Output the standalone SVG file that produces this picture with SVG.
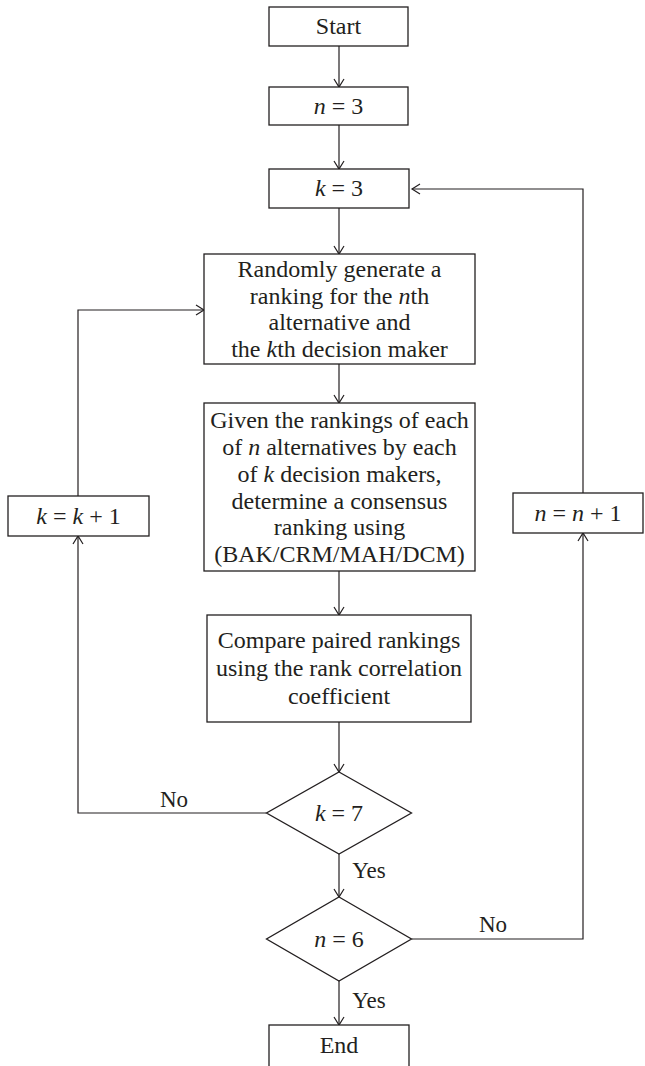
<svg xmlns="http://www.w3.org/2000/svg" width="645" height="1066" viewBox="0 0 645 1066">
<style>
.box{fill:#fff;stroke:#231f20;stroke-width:1.3}
.ln{fill:none;stroke:#231f20;stroke-width:1.2}
text{font-family:"Liberation Serif","Times New Roman",serif;font-size:24px;fill:#231f20;text-anchor:middle}
.lbl{font-size:23px}
.i{font-style:italic}
</style>
<defs>
<marker id="arr" markerUnits="userSpaceOnUse" markerWidth="14" markerHeight="14" refX="9" refY="6" orient="auto">
<path d="M1,1 L9,6 L1,11" fill="none" stroke="#231f20" stroke-width="1.2"/>
</marker>
</defs>
<rect width="645" height="1066" fill="#fff"/>
<g id="connectors">
<line class="ln" x1="339" y1="46" x2="339" y2="87" marker-end="url(#arr)"/>
<line class="ln" x1="339" y1="125" x2="339" y2="169" marker-end="url(#arr)"/>
<line class="ln" x1="339" y1="208" x2="339" y2="254" marker-end="url(#arr)"/>
<line class="ln" x1="339" y1="364" x2="339" y2="403" marker-end="url(#arr)"/>
<line class="ln" x1="339" y1="571" x2="339" y2="615" marker-end="url(#arr)"/>
<line class="ln" x1="339" y1="722" x2="339" y2="772" marker-end="url(#arr)"/>
<line class="ln" x1="339" y1="854" x2="339" y2="897" marker-end="url(#arr)"/>
<line class="ln" x1="339" y1="981" x2="339" y2="1025" marker-end="url(#arr)"/>
<polyline class="ln" points="266.5,813 78,813 78,536" marker-end="url(#arr)"/>
<polyline class="ln" points="78,496 78,310 204,310" marker-end="url(#arr)"/>
<polyline class="ln" points="411.5,939 583,939 583,533" marker-end="url(#arr)"/>
<polyline class="ln" points="583,493 583,189 412,189" marker-end="url(#arr)"/>
<text class="lbl" x="174" y="807">No</text>
<text class="lbl" x="369" y="878">Yes</text>
<text class="lbl" x="493" y="932">No</text>
<text class="lbl" x="369" y="1008">Yes</text>
</g>
<g id="start">
<rect class="box" x="269" y="7" width="139" height="39"/>
<text x="338.5" y="34">Start</text>
</g>
<g id="n3">
<rect class="box" x="269" y="87" width="139" height="38"/>
<text x="338.5" y="114"><tspan class="i">n</tspan> = 3</text>
</g>
<g id="k3">
<rect class="box" x="269" y="169" width="140" height="39"/>
<text x="339" y="196"><tspan class="i">k</tspan> = 3</text>
</g>
<g id="generate">
<rect class="box" x="204" y="254" width="271" height="110"/>
<text x="339.5" y="277">Randomly generate a</text>
<text x="339.5" y="303.5">ranking for the <tspan class="i">n</tspan>th</text>
<text x="339.5" y="330">alternative and</text>
<text x="339.5" y="356.5">the <tspan class="i">k</tspan>th decision maker</text>
</g>
<g id="consensus">
<rect class="box" x="204" y="403" width="271" height="168"/>
<text x="339.5" y="428">Given the rankings of each</text>
<text x="339.5" y="455">of <tspan class="i">n</tspan> alternatives by each</text>
<text x="339.5" y="482">of <tspan class="i">k</tspan> decision makers,</text>
<text x="339.5" y="508.5">determine a consensus</text>
<text x="339.5" y="535">ranking using</text>
<text x="339.5" y="562">(BAK/CRM/MAH/DCM)</text>
</g>
<g id="compare">
<rect class="box" x="207" y="615" width="264" height="107"/>
<text x="339" y="648">Compare paired rankings</text>
<text x="339" y="676">using the rank correlation</text>
<text x="339" y="704">coefficient</text>
</g>
<g id="k7">
<polygon class="box" points="339,772 411.5,813 339,854 266.5,813"/>
<text x="339" y="821"><tspan class="i">k</tspan> = 7</text>
</g>
<g id="n6">
<polygon class="box" points="339,897 411.5,939 339,981 266.5,939"/>
<text x="339" y="947"><tspan class="i">n</tspan> = 6</text>
</g>
<g id="end">
<rect class="box" x="269" y="1025" width="140" height="60"/>
<text x="339" y="1053">End</text>
</g>
<g id="kinc">
<rect class="box" x="8" y="496" width="141" height="40"/>
<text x="78.5" y="524"><tspan class="i">k</tspan> = <tspan class="i">k</tspan> + 1</text>
</g>
<g id="ninc">
<rect class="box" x="513" y="493" width="130" height="40"/>
<text x="578" y="521"><tspan class="i">n</tspan> = <tspan class="i">n</tspan> + 1</text>
</g>
</svg>
